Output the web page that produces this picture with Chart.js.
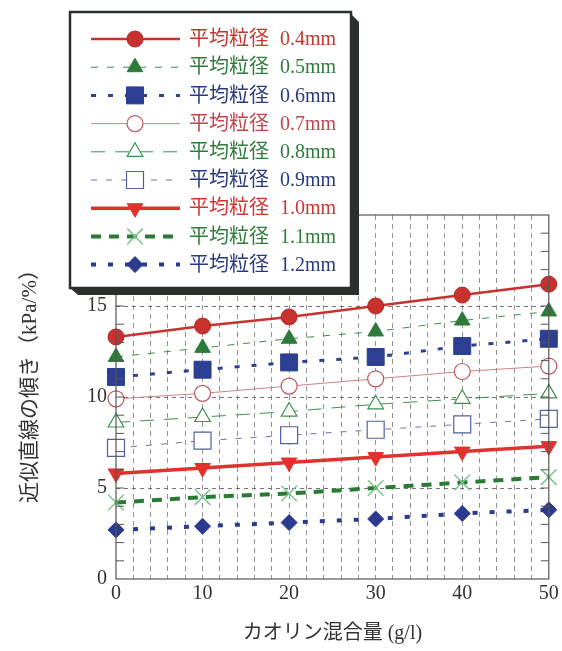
<!DOCTYPE html>
<html>
<head>
<meta charset="utf-8">
<script src="https://cdn.jsdelivr.net/npm/chart.js@4"></script>
<style>
  html, body { margin: 0; padding: 0; background: #fff; }
  #wrap { width: 562px; height: 651px; }
</style>
</head>
<body>
<div id="wrap"><canvas id="slopeChart" width="562" height="651"></canvas></div>
<script>
// カオリン混合量 (g/l)
const kaolin = [0, 10, 20, 30, 40, 50];

// 近似直線の傾き (kPa/%) 平均粒径ごと
const d04 = [13.3, 13.9, 14.4, 15.0, 15.6, 16.2];
const d05 = [12.2, 12.7, 13.2, 13.6, 14.2, 14.7];
const d06 = [11.1, 11.5, 11.9, 12.2, 12.8, 13.2];
const d07 = [9.9, 10.2, 10.6, 11.0, 11.4, 11.7];
const d08 = [8.6, 8.9, 9.2, 9.6, 9.9, 10.2];
const d09 = [7.2, 7.6, 7.9, 8.2, 8.5, 8.8];
const d10 = [5.8, 6.1, 6.4, 6.7, 7.0, 7.3];
const d11 = [4.2, 4.5, 4.7, 5.0, 5.3, 5.6];
const d12 = [2.7, 2.9, 3.1, 3.3, 3.6, 3.8];

const seriesNames = ['0.4mm', '0.5mm', '0.6mm', '0.7mm', '0.8mm', '0.9mm', '1.0mm', '1.1mm', '1.2mm'];
const labelHead = '平均粒径';
const xTitle = 'カオリン混合量 (g/l)';
const yTitle = '近似直線の傾き（kPa/%）';

const serifFont = '"Liberation Serif", "Noto Sans CJK JP", serif';

function pts(arr) {
  return arr.map((v, i) => ({ x: kaolin[i], y: v }));
}

// 線とマーカーの見た目
const styles = [
  { line: '#c8322e', width: 2.5, dash: [], marker: 'circle', r: 8, fill: '#c8322e', edge: '#b02a27', text: '#c0392f' },
  { line: '#3f8a4c', width: 1, dash: [7, 9], marker: 'triangle', r: 9, fill: '#2e7a3a', edge: '#2e7a3a', text: '#2f7d3b' },
  { line: '#2c3f92', width: 3, dash: [5, 12], marker: 'rect', r: 12, fill: '#2c3f92', edge: '#2c3f92', text: '#2b3a80' },
  { line: '#cf7f8a', width: 1, dash: [], marker: 'circle', r: 8, fill: '#fff', edge: '#c45560', text: '#c0454f' },
  { line: '#3f8f4f', width: 1, dash: [14, 10], marker: 'triangle', r: 9, fill: '#fff', edge: '#3f8f4f', text: '#2f7d3b' },
  { line: '#6a76a0', width: 1, dash: [6, 9], marker: 'rect', r: 12, fill: '#fff', edge: '#5060a0', text: '#2b3a80' },
  { line: '#e0322e', width: 3.5, dash: [], marker: 'triangle', r: 9, rot: 180, fill: '#e0322e', edge: '#e0322e', text: '#d03530' },
  { line: '#2a7a35', width: 4, dash: [10, 8], marker: 'crossRot', r: 11, fill: '#7cc48c', edge: '#7cc48c', text: '#2f7d3b' },
  { line: '#2b3a8f', width: 4, dash: [5, 12], marker: 'rectRot', r: 8, fill: '#2b3a8f', edge: '#2b3a8f', text: '#2b3a80' }
];

const values = [d04, d05, d06, d07, d08, d09, d10, d11, d12];

const datasets = values.map((arr, i) => {
  const s = styles[i];
  return {
    label: labelHead + ' ' + seriesNames[i],
    data: pts(arr),
    showLine: true,
    borderColor: s.line,
    borderWidth: s.width,
    borderDash: s.dash,
    pointStyle: s.marker,
    pointRadius: s.r,
    pointRotation: s.rot || 0,
    pointBackgroundColor: s.fill,
    pointBorderColor: s.edge,
    pointBorderWidth: s.fill === '#fff' ? 1.2 : (s.marker === 'crossRot' ? 1.5 : 1),
    clip: false,
    tension: 0
  };
});

// 枠・内向き目盛・軸タイトル・凡例
const decorPlugin = {
  id: 'decor',
  afterDatasetsDraw(chart) {
    const ctx = chart.ctx;
    const a = chart.chartArea;
    const ys = chart.scales.y;
    ctx.save();
    ctx.strokeStyle = '#555';
    ctx.lineWidth = 1.2;
    ctx.setLineDash([]);
    ctx.strokeRect(a.left, a.top, a.right - a.left, a.bottom - a.top);
    ctx.lineWidth = 1;
    for (let v = 1; v < 20; v++) {
      const py = ys.getPixelForValue(v);
      ctx.beginPath();
      ctx.moveTo(a.left, py); ctx.lineTo(a.left + 8, py);
      ctx.moveTo(a.right, py); ctx.lineTo(a.right - 8, py);
      ctx.stroke();
    }
    ctx.restore();
  },
  afterDraw(chart) {
    const ctx = chart.ctx;
    const a = chart.chartArea;
    ctx.save();
    ctx.fillStyle = '#333';
    ctx.font = '20px ' + serifFont;
    ctx.textAlign = 'center';
    ctx.textBaseline = 'middle';
    ctx.fillText(xTitle, (a.left + a.right) / 2, 634);
    ctx.translate(30, 381);
    ctx.rotate(-Math.PI / 2);
    ctx.font = '21px ' + serifFont;
    ctx.fillText(yTitle, 0, 0);
    ctx.restore();

    // 凡例の箱（影付き）
    const bx = 70, by = 12, bw = 281, bh = 276;
    ctx.save();
    ctx.fillStyle = '#2b302c';
    ctx.beginPath();
    ctx.moveTo(bx + bw, by + 2);
    ctx.lineTo(bx + bw + 8, by + 10);
    ctx.lineTo(bx + bw + 8, by + bh + 7);
    ctx.lineTo(bx + 8, by + bh + 7);
    ctx.lineTo(bx, by + bh);
    ctx.closePath();
    ctx.fill();
    ctx.fillStyle = '#fff';
    ctx.fillRect(bx, by, bw, bh);
    ctx.strokeStyle = '#2b302c';
    ctx.lineWidth = 2.5;
    ctx.strokeRect(bx, by, bw, bh);

    ctx.font = '20px ' + serifFont;
    ctx.textAlign = 'left';
    ctx.textBaseline = 'middle';
    chart.data.datasets.forEach((ds, i) => {
      const s = styles[i];
      const ry = 39 + i * 28.2;
      ctx.save();
      ctx.strokeStyle = s.line;
      ctx.lineWidth = s.width;
      ctx.setLineDash(s.dash);
      ctx.beginPath();
      ctx.moveTo(91, ry);
      ctx.lineTo(180, ry);
      ctx.stroke();
      ctx.restore();
      ctx.save();
      ctx.fillStyle = s.fill;
      ctx.strokeStyle = s.edge;
      ctx.lineWidth = ds.pointBorderWidth;
      ctx.setLineDash([]);
      Chart.helpers.drawPoint(ctx, { pointStyle: s.marker, radius: s.r, rotation: s.rot || 0, borderWidth: ds.pointBorderWidth }, 135, ry);
      ctx.restore();
      ctx.fillStyle = s.text;
      ctx.fillText(labelHead, 189, ry + 1);
      ctx.fillText(seriesNames[i], 280, ry + 1);
    });
    ctx.restore();
  }
};

new Chart(document.getElementById('slopeChart'), {
  type: 'scatter',
  data: { datasets },
  plugins: [decorPlugin],
  options: {
    responsive: false,
    animation: false,
    layout: { padding: { left: 0, top: 215, right: 7, bottom: 0 } },
    plugins: { legend: { display: false }, tooltip: { enabled: false } },
    scales: {
      x: {
        type: 'linear',
        min: 0,
        max: 50,
        afterFit(scale) { scale.height = 72; },
        ticks: {
          stepSize: 2,
          autoSkip: false,
          maxRotation: 0,
          padding: 3,
          color: '#333',
          font: { family: serifFont, size: 20 },
          callback: v => (v % 10 === 0 ? v : '')
        },
        grid: {
          drawTicks: false,
          color: c => (c.tick && c.tick.value > 0 && c.tick.value < 50 ? '#888' : 'rgba(0,0,0,0)'),
          lineWidth: 0.9
        },
        border: { display: false, dash: [5, 4] }
      },
      y: {
        min: 0,
        max: 20,
        afterFit(scale) { scale.width = 116; },
        ticks: {
          stepSize: 1,
          autoSkip: false,
          padding: 9,
          color: '#333',
          font: { family: serifFont, size: 20 },
          callback: v => (v % 5 === 0 ? v : '')
        },
        grid: {
          drawTicks: false,
          color: c => (c.tick && c.tick.value % 5 === 0 && c.tick.value > 0 && c.tick.value < 20 ? '#666' : 'rgba(0,0,0,0)'),
          lineWidth: 0.9
        },
        border: { display: false, dash: [4, 4] }
      }
    }
  }
});
</script>
</body>
</html>
